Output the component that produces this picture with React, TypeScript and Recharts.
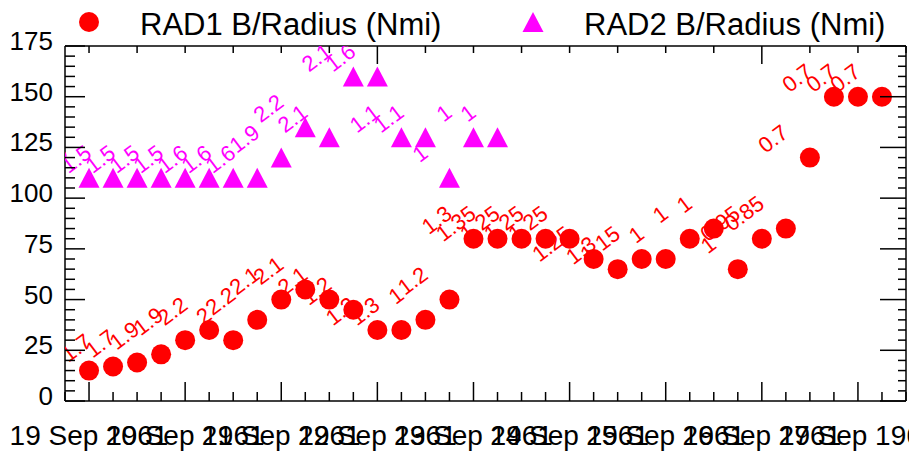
import React from 'react';
import { ScatterChart, Scatter, XAxis, YAxis, Legend } from 'recharts';

const FONT = '"Liberation Sans", Arial, Helvetica, sans-serif';
const RED = '#ff0000';
const MAGENTA = '#ff00ff';

// x positions are 6-hourly steps starting 19 Sep 1961 00Z
const dateLabels = [
  '19 Sep 1961', '20 Sep 1961', '21 Sep 1961', '22 Sep 1961', '23 Sep 1961',
  '24 Sep 1961', '25 Sep 1961', '26 Sep 1961', '27 Sep 1961',
];
const stepsPerDay = 4;

const rad1 = [15, 17, 19, 23, 30, 35, 30, 40, 50, 55, 50, 45, 35, 35, 40, 50, 80, 80, 80, 80, 80, 70, 65, 70, 70, 80, 85, 65, 80, 85, 120, 150, 150, 150];
const rad1Labels = ['1.7', '1.7', '1.7', '1.9', '1.9', '2.2', '2', '2.2', '2.1', '2.1', '2.1', '1.2', '1.3', '1.3', '1', '1.2', '1.3', '1.35', '1.25', '1.25', '1.25', '1.25', '1.3', '1.15', '1', '1', '1', '1', '0.95', '0.85', '0.7', '0.7', '0.7', '0.7'];

const rad2 = [110, 110, 110, 110, 110, 110, 110, 110, 120, 135, 130, 160, 160, 130, 130, 110, 130, 130];
const rad2Labels = ['1.5', '1.5', '1.5', '1.5', '1.5', '1.6', '1.6', '1.6', '1.9', '2.2', '2.1', '2.1', '1.6', '1.1', '1.1', '1', '1', '1'];

const yMajor = [0, 25, 50, 75, 100, 125, 150, 175];
const xDomain = [-1, 34];
const yDomain = [0, 175];

const rad1Data = rad1.map((v, i) => ({ t: i, v, label: rad1Labels[i] }));
const rad2Data = rad2.map((v, i) => ({ t: i, v, label: rad2Labels[i] }));

const bottomTicks: number[] = [];
for (let t = xDomain[0]; t <= xDomain[1]; t++) bottomTicks.push(t);
const topTicks: number[] = [];
for (let t = 0; t <= xDomain[1]; t += 2) topTicks.push(t);
const yTicks: number[] = [];
for (let v = yDomain[0]; v <= yDomain[1]; v += 5) yTicks.push(v);

const AX = '#000';

const BottomTick = (p: any) => {
  const { x, y, payload } = p;
  const v = payload.value;
  const major = v >= 0 && v % stepsPerDay === 0;
  return (
    <g>
      <line x1={x} x2={x} y1={y} y2={y - (major ? 19 : 9)} stroke={AX} strokeWidth={1.5} />
      {major && (
        <text x={x} y={y + 44} textAnchor="middle" fontSize={28} fill="#000" fontFamily={FONT}>
          {dateLabels[v / stepsPerDay]}
        </text>
      )}
    </g>
  );
};

const TopTick = (p: any) => {
  const { x, y, payload } = p;
  const v = payload.value;
  const long = v % 16 === 12;
  return <line x1={x} x2={x} y1={y} y2={y + (long ? 18 : 7)} stroke={AX} strokeWidth={1.5} />;
};

const LeftTick = (p: any) => {
  const { x, y, payload } = p;
  const v = payload.value;
  const major = yMajor.includes(v);
  return (
    <g>
      <line x1={x} x2={x + (major ? 20 : 10)} y1={y} y2={y} stroke={AX} strokeWidth={1.5} />
      {major && (
        <text x={x - 12} y={y + 4} textAnchor="end" fontSize={26} fill="#000" fontFamily={FONT}>
          {v}
        </text>
      )}
    </g>
  );
};

const RightTick = (p: any) => {
  const { x, y, payload } = p;
  const v = payload.value;
  const major = yMajor.includes(v);
  return <line x1={x} x2={x - (major ? 26 : 8)} y1={y} y2={y} stroke={AX} strokeWidth={1.5} />;
};

const makeLabel = (cx: number, cy: number, text: string, color: string) => (
  <text
    transform={`translate(${cx - 20},${cy - 22}) rotate(-37)`}
    textAnchor="end"
    fontSize={22}
    fill={color}
    fontFamily={FONT}
  >
    {text}
  </text>
);

const CircleShape = (p: any) => {
  const { cx, cy, payload } = p;
  return (
    <g>
      <circle cx={cx} cy={cy} r={10} fill={RED} />
      {makeLabel(cx, cy, payload.label, RED)}
    </g>
  );
};

const TriangleShape = (p: any) => {
  const { cx, cy, payload } = p;
  const w = 21;
  const h = 20;
  return (
    <g>
      <polygon
        points={`${cx},${cy - h / 2} ${cx + w / 2},${cy + h / 2} ${cx - w / 2},${cy + h / 2}`}
        fill={MAGENTA}
      />
      {makeLabel(cx, cy, payload.label, MAGENTA)}
    </g>
  );
};

const legendX = [89, 533];

const renderLegend = (props: any) => {
  const payload = props.payload || [];
  return (
    <svg width={909} height={46} style={{ display: 'block' }}>
      {payload.map((entry: any, i: number) => {
        const cx = legendX[i];
        const cy = 22;
        const marker =
          entry.type === 'triangle' ? (
            <polygon points={`${cx},${cy - 10} ${cx + 10.5},${cy + 10} ${cx - 10.5},${cy + 10}`} fill={entry.color} />
          ) : (
            <circle cx={cx} cy={cy} r={10} fill={entry.color} />
          );
        return (
          <g key={i}>
            {marker}
            <text x={cx + 51} y={35} fontSize={31} fill="#000" fontFamily={FONT}>
              {entry.value}
            </text>
          </g>
        );
      })}
    </svg>
  );
};

export default function App() {
  return (
    <div style={{ position: 'absolute', left: 0, top: 0, width: 909, height: 456, background: '#fff' }}>
      <ScatterChart
        width={909}
        height={456}
        margin={{ top: 45, right: 2, bottom: 54, left: 64 }}
        style={{ fontFamily: FONT }}
      >
        <XAxis
          xAxisId="bottom"
          orientation="bottom"
          type="number"
          dataKey="t"
          domain={xDomain}
          ticks={bottomTicks}
          interval={0}
          height={1}
          tickSize={0}
          tickMargin={0}
          tickLine={false}
          tick={<BottomTick />}
          axisLine={{ stroke: AX, strokeWidth: 1.5 }}
          allowDataOverflow
        />
        <XAxis
          xAxisId="top"
          orientation="top"
          type="number"
          dataKey="t"
          domain={xDomain}
          ticks={topTicks}
          interval={0}
          height={1}
          tickSize={0}
          tickMargin={0}
          tickLine={false}
          tick={<TopTick />}
          axisLine={{ stroke: AX, strokeWidth: 1.5 }}
          allowDataOverflow
        />
        <YAxis
          yAxisId="left"
          orientation="left"
          type="number"
          dataKey="v"
          domain={yDomain}
          ticks={yTicks}
          interval={0}
          width={1}
          tickSize={0}
          tickMargin={0}
          tickLine={false}
          tick={<LeftTick />}
          axisLine={{ stroke: AX, strokeWidth: 1.5 }}
          allowDataOverflow
        />
        <YAxis
          yAxisId="right"
          orientation="right"
          type="number"
          dataKey="v"
          domain={yDomain}
          ticks={yTicks}
          interval={0}
          width={1}
          tickSize={0}
          tickMargin={0}
          tickLine={false}
          tick={<RightTick />}
          axisLine={{ stroke: AX, strokeWidth: 1.5 }}
          allowDataOverflow
        />
        <Legend
          verticalAlign="middle"
          align="center"
          layout="horizontal"
          wrapperStyle={{ top: 0, left: 0, width: 909, height: 46 }}
          content={renderLegend}
        />
        <Scatter
          name="RAD1 B/Radius (Nmi)"
          data={rad1Data}
          xAxisId="bottom"
          yAxisId="left"
          fill={RED}
          legendType="circle"
          shape={CircleShape}
          isAnimationActive={false}
        />
        <Scatter
          name="RAD2 B/Radius (Nmi)"
          data={rad2Data}
          xAxisId="top"
          yAxisId="right"
          fill={MAGENTA}
          legendType="triangle"
          shape={TriangleShape}
          isAnimationActive={false}
        />
      </ScatterChart>
    </div>
  );
}
